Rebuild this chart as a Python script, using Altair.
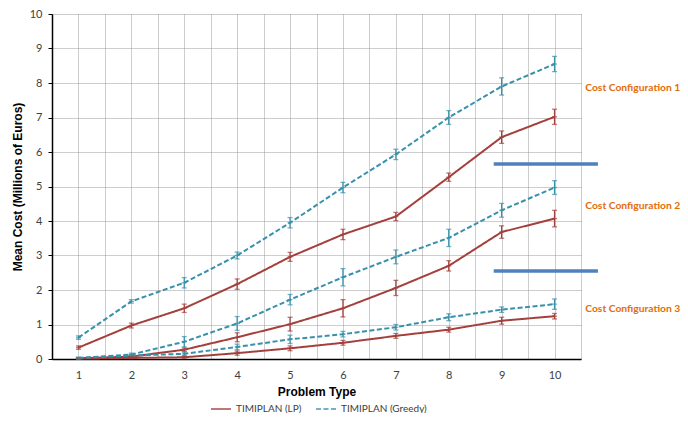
import altair as alt
import pandas as pd

problem = [1, 2, 3, 4, 5, 6, 7, 8, 9, 10]

lp_c1 = [0.33, 0.97, 1.47, 2.17, 2.96, 3.61, 4.13, 5.27, 6.43, 7.02]
lp_c1_err = [0.05, 0.07, 0.12, 0.15, 0.13, 0.15, 0.12, 0.12, 0.18, 0.22]
gr_c1 = [0.62, 1.67, 2.21, 3.0, 3.95, 4.97, 5.93, 7.0, 7.9, 8.55]
gr_c1_err = [0.05, 0.05, 0.15, 0.1, 0.15, 0.15, 0.15, 0.2, 0.25, 0.22]

lp_c2 = [0.02, 0.07, 0.27, 0.63, 1.01, 1.47, 2.06, 2.70, 3.68, 4.07]
lp_c2_err = [0.02, 0.03, 0.05, 0.13, 0.2, 0.25, 0.22, 0.15, 0.18, 0.24]
gr_c2 = [0.03, 0.13, 0.5, 1.03, 1.72, 2.37, 2.96, 3.51, 4.31, 4.97]
gr_c2_err = [0.02, 0.04, 0.15, 0.2, 0.15, 0.25, 0.2, 0.25, 0.2, 0.2]

lp_c3 = [0.01, 0.03, 0.05, 0.17, 0.31, 0.47, 0.67, 0.85, 1.11, 1.24]
lp_c3_err = [0.02, 0.02, 0.03, 0.06, 0.07, 0.07, 0.07, 0.07, 0.1, 0.08]
gr_c3 = [0.03, 0.1, 0.15, 0.35, 0.57, 0.72, 0.92, 1.21, 1.43, 1.59]
gr_c3_err = [0.02, 0.03, 0.05, 0.08, 0.12, 0.08, 0.08, 0.1, 0.08, 0.15]

series_names = ["TIMIPLAN (LP)", "TIMIPLAN (Greedy)"]
series_colors = ["#A4403C", "#3891AB"]

sep_y = [5.65, 2.55]
sep_x_start = 8.85
sep_x_end = 10.82

config_labels = ["Cost Configuration 1", "Cost Configuration 2", "Cost Configuration 3"]
config_label_y = [7.86, 4.43, 1.45]
config_label_x = 10.58

rows = []
for cfg, (lp, lpe, gr, gre) in enumerate([
    (lp_c1, lp_c1_err, gr_c1, gr_c1_err),
    (lp_c2, lp_c2_err, gr_c2, gr_c2_err),
    (lp_c3, lp_c3_err, gr_c3, gr_c3_err),
], start=1):
    for name, vals, errs in [(series_names[0], lp, lpe), (series_names[1], gr, gre)]:
        for p, v, e in zip(problem, vals, errs):
            rows.append({"problem": p, "cost": v, "lo": v - e, "hi": v + e,
                         "series": name, "cfg": f"{name}-{cfg}"})
df = pd.DataFrame(rows)

sep_df = pd.DataFrame({"y": sep_y, "x": [sep_x_start] * len(sep_y), "x2": [sep_x_end] * len(sep_y)})
lab_df = pd.DataFrame({"label": config_labels, "y": config_label_y, "x": [config_label_x] * 3})

grid_vals = [i / 2 for i in range(1, 22)]

xscale = alt.Scale(domain=[0.5, 10.5], nice=False, zero=False)
yscale = alt.Scale(domain=[0, 10], nice=False)
color = alt.Color("series:N", scale=alt.Scale(domain=series_names, range=series_colors),
                  legend=alt.Legend(title=None))
dash = alt.StrokeDash("series:N", scale=alt.Scale(domain=series_names, range=[[1, 0], [5, 2.5]]),
                      legend=alt.Legend(title=None))

xaxis = alt.Axis(values=grid_vals, title="Problem Type", grid=True, ticks=False,
                 labelExpr="datum.value % 1 == 0 ? format(datum.value, 'd') : ''",
                 labelOverlap=False, labelFlush=False, labelPadding=10, titlePadding=6)
yaxis = alt.Axis(values=list(range(0, 11)), title="Mean Cost (Millions of Euros)", grid=True,
                 ticks=True, tickSize=4, labelPadding=6, titlePadding=5, labelOverlap=False)


def X(field):
    return alt.X(field, type="quantitative", scale=xscale, axis=xaxis)


def Y(field):
    return alt.Y(field, type="quantitative", scale=yscale, axis=yaxis)


base = alt.Chart(df)

lines = base.mark_line(strokeWidth=2).encode(
    x=X("problem"), y=Y("cost"), color=color, strokeDash=dash, detail="cfg:N",
)

bars = base.mark_rule(strokeWidth=1.3).encode(
    x=X("problem"), y=Y("lo"), y2="hi:Q", color=color,
)
cap_lo = base.mark_tick(orient="horizontal", size=5, thickness=1.3).encode(
    x=X("problem"), y=Y("lo"), color=color)
cap_hi = base.mark_tick(orient="horizontal", size=5, thickness=1.3).encode(
    x=X("problem"), y=Y("hi"), color=color)
mid = base.mark_tick(orient="horizontal", size=5, thickness=1.3).encode(
    x=X("problem"), y=Y("cost"), color=color)

seps = alt.Chart(sep_df).mark_rule(color="#4F81BD", strokeWidth=3.5, clip=False).encode(
    x=X("x"), x2="x2:Q", y=Y("y"))

labels = alt.Chart(lab_df).mark_text(align="left", baseline="middle", color="#E36C0A",
                                     font="Lato", fontWeight="bold", fontSize=10.3,
                                     clip=False).encode(
    x=X("x"), y=Y("y"), text="label:N")

chart = alt.layer(lines, bars, cap_lo, cap_hi, mid, seps, labels).properties(
    width=529, height=345,
    autosize=alt.AutoSizeParams(type="none"),
    padding={"left": 44, "top": 6, "right": 99, "bottom": 54},
).configure_view(stroke=None).configure_axis(
    gridColor="#8a8a8a", gridDash=[1, 1], gridWidth=1, gridOpacity=0.85,
    domainColor="#000000", domainWidth=1.5, tickColor="#000000",
    labelFont="Lato", labelFontSize=11, labelColor="#404040",
    titleFont="Liberation Sans", titleFontSize=12, titleFontWeight="bold", titleColor="#000000",
).configure_legend(
    orient="none", legendX=158, legendY=384, direction="horizontal",
    symbolType="stroke", symbolSize=400, symbolStrokeWidth=2,
    labelFont="Lato", labelFontSize=10, labelColor="#404040", columnPadding=10,
)

chart.save("out.html", embed_options={"renderer": "svg", "actions": False})
